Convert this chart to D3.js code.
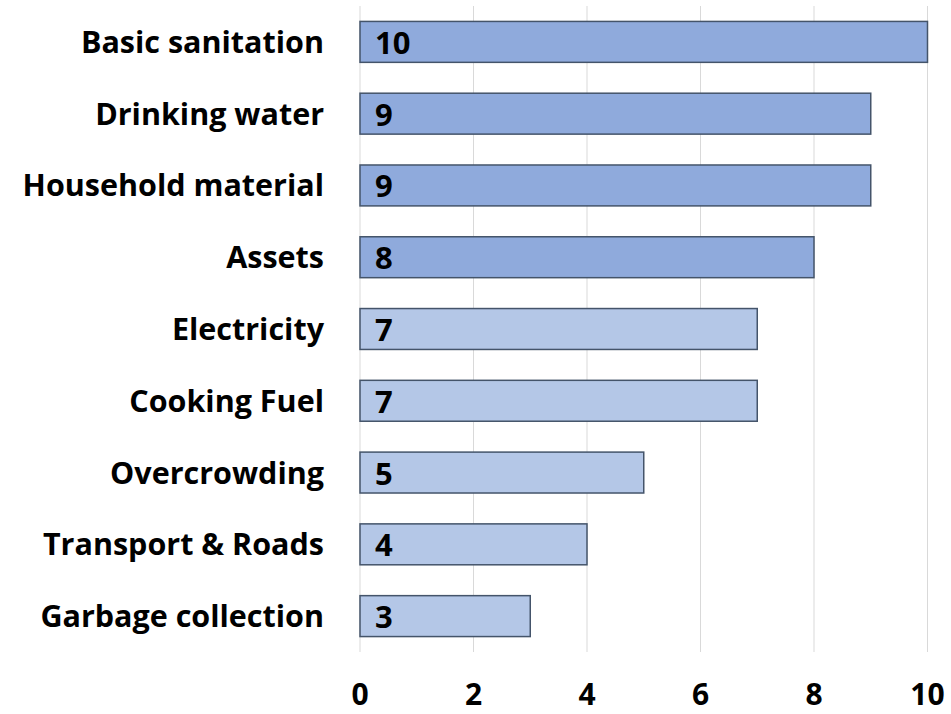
<!DOCTYPE html>
<html>
<head>
<meta charset="utf-8">
<script src="https://cdn.jsdelivr.net/npm/d3@7"></script>
<style>
  body { margin: 0; background: #fff; }
  text { font-family: "Open Sans", "Noto Sans", sans-serif; font-weight: 700; fill: #000; }
</style>
</head>
<body>
<div id="chart"></div>
<script>
// categories, top to bottom
const categories = ["Basic sanitation", "Drinking water", "Household material", "Assets",
  "Electricity", "Cooking Fuel", "Overcrowding", "Transport & Roads", "Garbage collection"];
const values = [10, 9, 9, 8, 7, 7, 5, 4, 3];
// which bars get the darker blue
const highlighted = [true, true, true, true, false, false, false, false, false];
const xTicks = [0, 2, 4, 6, 8, 10];

const width = 951, height = 714;
const margin = {top: 6, right: 24, bottom: 62, left: 360};

const svg = d3.select("#chart").append("svg")
    .attr("width", width)
    .attr("height", height);

// scales
const x = d3.scaleLinear()
    .domain([0, 10])
    .range([margin.left, width - margin.right + 0.5]);

const y = d3.scaleBand()
    .domain(categories)
    .range([margin.top, height - margin.bottom])
    .paddingInner(0.43)
    .paddingOuter(0.215);

// vertical gridlines
svg.append("g")
    .selectAll("line")
    .data(xTicks)
    .enter()
    .append("line")
    .attr("x1", d => x(d))
    .attr("x2", d => x(d))
    .attr("y1", margin.top)
    .attr("y2", height - margin.bottom)
    .attr("stroke", "#d9d9d9")
    .attr("stroke-width", 1);

// bars
svg.append("g")
    .selectAll("rect")
    .data(categories)
    .enter()
    .append("rect")
    .attr("x", x(0))
    .attr("y", d => y(d))
    .attr("width", (d, i) => x(values[i]) - x(0))
    .attr("height", y.bandwidth())
    .attr("fill", (d, i) => highlighted[i] ? "#8faadc" : "#b4c7e7")
    .attr("stroke", "#44546a")
    .attr("stroke-width", 1.5);

// value labels inside bars
svg.append("g")
    .selectAll("text")
    .data(categories)
    .enter()
    .append("text")
    .attr("x", x(0) + 15)
    .attr("y", d => y(d) + y.bandwidth() / 2 + 12)
    .attr("font-size", 31)
    .text((d, i) => values[i]);

// category labels
svg.append("g")
    .selectAll("text")
    .data(categories)
    .enter()
    .append("text")
    .attr("x", 324)
    .attr("y", d => y(d) + y.bandwidth() / 2 + 11)
    .attr("text-anchor", "end")
    .attr("font-size", 30.5)
    .text(d => d);

// x axis tick labels
svg.append("g")
    .selectAll("text")
    .data(xTicks)
    .enter()
    .append("text")
    .attr("x", d => x(d))
    .attr("y", 705)
    .attr("text-anchor", "middle")
    .attr("font-size", 30)
    .text(d => d);
</script>
</body>
</html>
